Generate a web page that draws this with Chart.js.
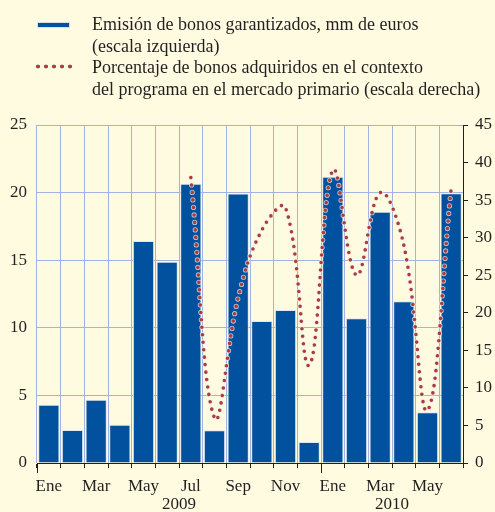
<!DOCTYPE html>
<html lang="es">
  <head>
    <meta charset="UTF-8" />
    <title>Emisión de bonos garantizados</title>
    <script src="https://cdn.jsdelivr.net/npm/chart.js@4.4.0/dist/chart.umd.min.js"></script>
    <style>
      body { margin: 0; background: #fffbe1; }
      #wrap { position: relative; width: 495px; height: 512px; background: #fffbe1; }
      #chart { position: absolute; left: 0; top: 0; }
      .legend-text {
        position: absolute; left: 92px; top: 14px;
        font: 18px "Liberation Serif", serif; line-height: 21.5px;
        color: #231f20; white-space: nowrap;
      }
      .swatch-bar {
        position: absolute; left: 37px; top: 22px; width: 33px; height: 6px;
        background: #02519e; border: 1px solid #d8e0ea; box-sizing: border-box;
      }
      .swatch-dots {
        position: absolute; left: 34px; top: 64px; width: 40px; height: 5px;
        background: radial-gradient(circle, #b03a3a 1.7px, transparent 2.2px) 0 0 / 8px 5px repeat-x;
      }
    </style>
  </head>
  <body>
    <div id="wrap">
      <canvas id="chart" width="495" height="512"></canvas>
      <div class="swatch-bar"></div>
      <div class="swatch-dots"></div>
      <div class="legend-text">
        Emisión de bonos garantizados, mm de euros<br />
        (escala izquierda)<br />
        Porcentaje de bonos adquiridos en el contexto<br />
        del programa en el mercado primario (escala derecha)
      </div>
    </div>

    <script>
      // datos
      const months = ['Ene', 'Feb', 'Mar', 'Abr', 'May', 'Jun', 'Jul', 'Ago', 'Sep', 'Oct', 'Nov', 'Dic',
        'Ene', 'Feb', 'Mar', 'Abr', 'May', 'Jun'];
      const tickLabels = ['Ene', '', 'Mar', '', 'May', '', 'Jul', '', 'Sep', '', 'Nov', '',
        'Ene', '', 'Mar', '', 'May', ''];
      const emision = [4.3, 2.45, 4.67, 2.82, 16.42, 14.89, 20.65, 2.42, 19.93, 10.5, 11.32, 1.55,
        21.18, 10.7, 18.59, 11.96, 3.75, 19.95];
      const porcentaje = [null, null, null, null, null, null, 38, 6, 22, 31, 34, 13,
        39, 25, 36, 29, 7, 36.5];
      const years = ['2009', '2010'];
      const yearFirst = [0, 12];
      const yearLast = [11, 17];

      const ink = '#231f20';
      const gridBlue = '#a3b2e2';
      const font = { family: '"Liberation Serif", serif', size: 17 };

      // años debajo del eje y marcas largas de inicio de año
      const yearPlugin = {
        id: 'years',
        afterDraw(chart) {
          const x = chart.scales.x;
          const ctx = chart.ctx;
          const half = (x.getPixelForValue(1) - x.getPixelForValue(0)) / 2;
          ctx.save();
          ctx.strokeStyle = ink;
          ctx.lineWidth = 1;
          ctx.fillStyle = ink;
          ctx.font = '17px "Liberation Serif", serif';
          ctx.textAlign = 'center';
          ctx.textBaseline = 'middle';
          years.forEach((y, i) => {
            const x0 = x.getPixelForValue(yearFirst[i]) - half;
            const x1 = x.getPixelForValue(yearLast[i]) + half;
            ctx.beginPath();
            ctx.moveTo(Math.round(x0) + 0.5, x.top);
            ctx.lineTo(Math.round(x0) + 0.5, x.top + 10);
            ctx.stroke();
            ctx.fillText(y, (x0 + x1) / 2, 505);
          });
          ctx.restore();
        },
      };

      const dotted = {
        type: 'line',
        data: porcentaje,
        yAxisID: 'y2',
        borderDash: [0, 7.5],
        borderCapStyle: 'round',
        tension: 0.4,
        pointRadius: 0,
      };

      new Chart(document.getElementById('chart'), {
        data: {
          labels: months,
          datasets: [
            // punto rojo
            { ...dotted, order: 0, borderColor: '#b03a36', borderWidth: 3.6 },
            // halo claro alrededor de cada punto
            { ...dotted, order: 1, borderColor: 'rgba(235,235,240,0.75)', borderWidth: 5.2 },
            {
              type: 'bar',
              data: emision,
              yAxisID: 'y',
              order: 2,
              backgroundColor: '#02519e',
              borderColor: '#dfe6ee',
              borderWidth: 1,
              categoryPercentage: 1,
              barPercentage: 0.9,
            },
          ],
        },
        options: {
          responsive: false,
          animation: false,
          devicePixelRatio: 1,
          layout: { padding: { top: 125, left: 0, right: 0, bottom: 0 } },
          plugins: { legend: { display: false }, tooltip: { enabled: false } },
          scales: {
            x: {
              offset: true,
              grid: { offset: true, color: gridBlue, tickColor: ink, tickLength: 5 },
              border: { color: ink },
              ticks: {
                autoSkip: false, maxRotation: 0, padding: 8, color: ink, font,
                callback: (v, i) => tickLabels[i],
              },
              afterFit: (s) => { s.height = 49; },
            },
            y: {
              position: 'left',
              min: 0, max: 25,
              grid: { color: gridBlue, drawTicks: false },
              border: { display: false },
              ticks: { stepSize: 5, padding: 10, color: ink, font },
              afterFit: (s) => { s.width = 37; },
            },
            y2: {
              position: 'right',
              min: 0, max: 45,
              grid: { drawOnChartArea: false, tickColor: ink, tickLength: 5 },
              border: { color: ink },
              ticks: { stepSize: 5, padding: 7, color: ink, font },
              afterFit: (s) => { s.width = 32; },
            },
          },
        },
        plugins: [yearPlugin],
      });
    </script>
  </body>
</html>
